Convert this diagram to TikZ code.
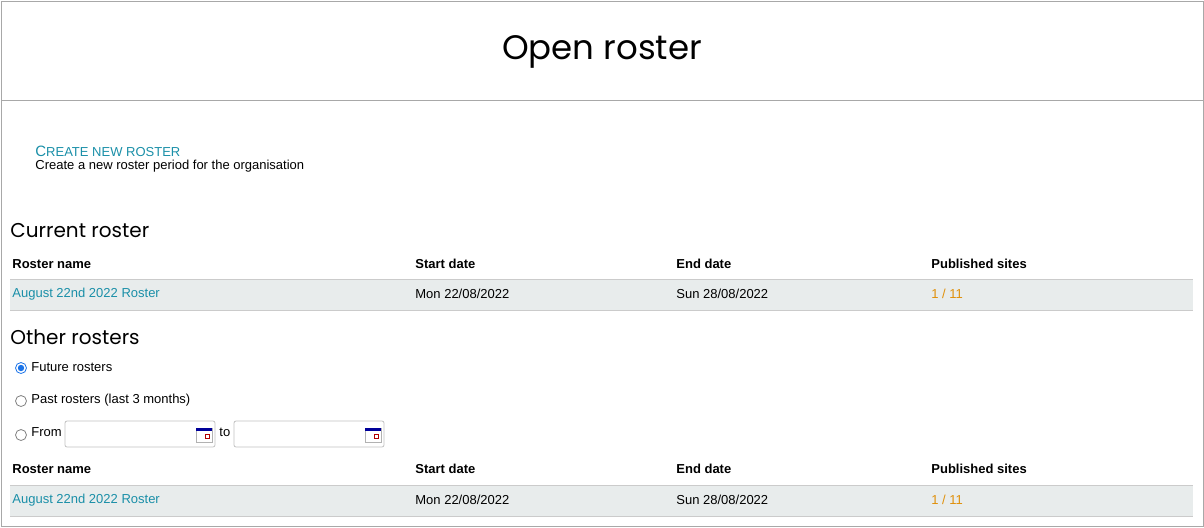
\documentclass[tikz,border=0pt]{standalone}
\usepackage{fontspec}
\setmainfont{Liberation Sans}
\newfontfamily\headfont{Poppins}
\usetikzlibrary{positioning}
\definecolor{linkblue}{HTML}{1A8FA8}
\definecolor{rowgray}{HTML}{E8ECEC}
\definecolor{edgegray}{HTML}{A8A8A8}
\definecolor{pubamber}{HTML}{E0900A}
\definecolor{radioblue}{HTML}{1A73E8}
\begin{document}
\begin{tikzpicture}[x=0.5pt,y=-0.5pt,
  txt/.style={anchor=west,inner sep=0pt,font=\fontsize{6.5}{8}\selectfont},
  colhead/.style={txt,font=\fontsize{6.5}{8}\selectfont\bfseries},
  link/.style={txt,text=linkblue},
  heading/.style={anchor=west,inner sep=0pt,font=\headfont\fontsize{10}{12}\selectfont},
  radio/.style={circle,draw=gray,fill=white,minimum size=5.5pt,inner sep=0pt},
  datebox/.style={draw=edgegray!70,rounded corners=1pt,fill=white}]
\useasboundingbox (0,0) rectangle (1204,527);
\draw[edgegray] (1,1) rectangle (1203,526);
\draw[edgegray] (1,100) -- (1203,100);
\node (title) at (602,52) [font=\headfont\fontsize{17}{20}\selectfont] {Open roster};

% create link
\node (create) at (35,151) [link] {{\fontsize{7.5}{8}\selectfont C}REATE NEW ROSTER};
\node (createdesc) at (35,166) [txt] {Create a new roster period for the organisation};

% current roster table
\node (current) at (10,231) [heading] {Current roster};
\fill[rowgray] (10,279) rectangle (1193,310);
\draw[edgegray!60] (10,279) -- (1193,279);
\draw[edgegray!60] (10,310) -- (1193,310);
\node (cname) at (12,264) [colhead] {Roster name};
\node (cstart) at (415,264) [colhead] {Start date};
\node (cend) at (676,264) [colhead] {End date};
\node (cpub) at (931,264) [colhead] {Published sites};
\node (crow) at (12,294) [link] {August 22nd 2022 Roster};
\node (crowstart) at (415,294) [txt] {Mon 22/08/2022};
\node (crowend) at (676,294) [txt] {Sun 28/08/2022};
\node (crowpub) at (931,294) [txt,text=pubamber] {1 / 11};

% other rosters
\node (other) at (10,337) [heading] {Other rosters};
\node (rfuture) at (21,368) [radio,draw=radioblue] {};
\fill[radioblue] (rfuture) circle (1.6pt);
\node (tfuture) at (31,367) [txt] {Future rosters};
\node (rpast) at (21,401) [radio] {};
\node (tpast) at (31,400) [txt] {Past rosters (last 3 months)};
\node (rfrom) at (21,435) [radio] {};
\node (tfrom) at (31,432) [txt] {From};
\draw[datebox] (65,421) rectangle (215,447);
\node (tto) at (219,432) [txt] {to};
\draw[datebox] (234,421) rectangle (384,447);
\foreach \cx in {204,373}{
  \draw[gray!60,fill=white] (\cx-8,428) rectangle (\cx+8,442);
  \fill[blue!60!black] (\cx-8,428) rectangle (\cx+8,431);
  \draw[red!70!black] (\cx+1,434) rectangle (\cx+5,438);
}
\fill[rowgray] (10,485) rectangle (1193,516);
\draw[edgegray!60] (10,485) -- (1193,485);
\draw[edgegray!60] (10,516) -- (1193,516);
\node (oname) at (12,469) [colhead] {Roster name};
\node (ostart) at (415,469) [colhead] {Start date};
\node (oend) at (676,469) [colhead] {End date};
\node (opub) at (931,469) [colhead] {Published sites};
\node (orow) at (12,500) [link] {August 22nd 2022 Roster};
\node (orowstart) at (415,500) [txt] {Mon 22/08/2022};
\node (orowend) at (676,500) [txt] {Sun 28/08/2022};
\node (orowpub) at (931,500) [txt,text=pubamber] {1 / 11};
\end{tikzpicture}
\end{document}
